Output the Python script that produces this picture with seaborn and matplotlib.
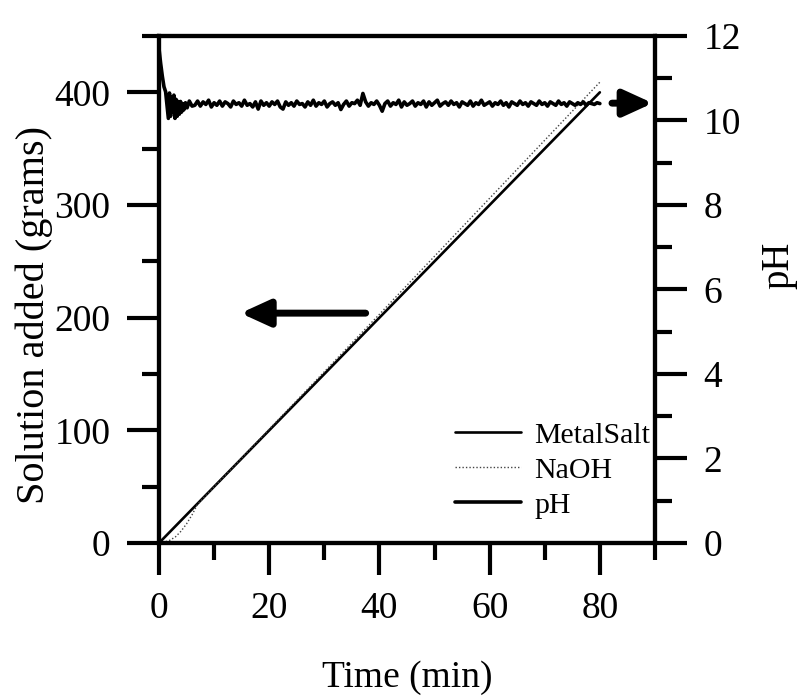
import numpy as np
import pandas as pd
import matplotlib
matplotlib.use("Agg")
import matplotlib.pyplot as plt
import seaborn as sns

# ---------------- data ----------------
salt_time = [0, 20, 40, 60, 80]
salt_mass = [0, 100, 200, 300, 400]

naoh_time = [0, 1, 2, 3, 4, 5, 6, 7, 20, 40, 60, 80]
naoh_mass = [0, 0.8, 2.5, 5.5, 10.5, 17, 25, 34.5, 101, 203, 306, 409]

ph_time_early = [0, 0.3, 0.6, 0.9, 1.2, 1.5, 1.7, 1.9, 2.1, 2.3, 2.5, 2.7, 2.9,
                 3.1, 3.3, 3.5, 3.7, 3.9, 4.1, 4.3, 4.5, 4.8, 5.1, 5.5, 6.0]
ph_early = [11.7, 11.35, 11.05, 10.8, 10.68, 10.3, 10.05, 10.65, 10.1, 10.55,
            10.2, 10.6, 10.05, 10.5, 10.1, 10.45, 10.15, 10.45, 10.2, 10.4,
            10.25, 10.42, 10.3, 10.46, 10.34]
ph_time_late = list(np.arange(6.5, 80.01, 0.5))
ph_late = [
    10.36, 10.46, 10.34, 10.44, 10.38, 10.48, 10.32, 10.42, 10.36, 10.46,
    10.34, 10.44, 10.40, 10.32, 10.46, 10.38, 10.42, 10.34, 10.48, 10.36,
    10.40, 10.32, 10.44, 10.27, 10.46, 10.36, 10.42, 10.34, 10.44, 10.38,
    10.46, 10.32, 10.27, 10.44, 10.36, 10.42, 10.34, 10.46, 10.38, 10.40,
    10.32, 10.44, 10.36, 10.48, 10.34, 10.42, 10.38, 10.46, 10.32, 10.40,
    10.44, 10.36, 10.42, 10.26, 10.38, 10.46, 10.34, 10.42, 10.40, 10.48,
    10.36, 10.64, 10.44, 10.34, 10.42, 10.38, 10.46, 10.36, 10.22, 10.40,
    10.46, 10.34, 10.42, 10.38, 10.48, 10.32, 10.44, 10.36, 10.40, 10.46,
    10.34, 10.42, 10.38, 10.46, 10.32, 10.44, 10.36, 10.42, 10.48, 10.34,
    10.40, 10.44, 10.36, 10.46, 10.38, 10.42, 10.32, 10.44, 10.40, 10.36,
    10.46, 10.34, 10.42, 10.38, 10.48, 10.36, 10.40, 10.44, 10.34, 10.42,
    10.38, 10.46, 10.36, 10.42, 10.32, 10.44, 10.40, 10.36, 10.46, 10.38,
    10.42, 10.34, 10.44, 10.40, 10.36, 10.46, 10.38, 10.42, 10.34, 10.44,
    10.40, 10.36, 10.46, 10.38, 10.42, 10.34, 10.44, 10.40, 10.36, 10.42,
    10.38, 10.44, 10.36, 10.42, 10.40, 10.38, 10.42, 10.40,
]
ph_time = ph_time_early + ph_time_late
ph_values = ph_early + ph_late

x_major = [0, 20, 40, 60, 80]
x_minor = [10, 30, 50, 70, 90]
y1_major = [0, 100, 200, 300, 400]
y1_minor = [50, 150, 250, 350, 450]
y2_major = [0, 2, 4, 6, 8, 10, 12]
y2_minor = [1, 3, 5, 7, 9, 11]

# ---------------- style ----------------
sns.set_theme(style="ticks")
plt.rcParams["font.family"] = ["Liberation Serif", "DejaVu Serif"]
plt.rcParams["text.color"] = "black"
plt.rcParams["axes.labelcolor"] = "black"
plt.rcParams["xtick.color"] = "black"
plt.rcParams["ytick.color"] = "black"
plt.rcParams["axes.linewidth"] = 3

fig = plt.figure(figsize=(7.97, 7.0), dpi=100)
ax1 = fig.add_axes([0.1995, 0.2243, 0.6223, 0.7243])
ax2 = ax1.twinx()

salt_df = pd.DataFrame({"t": salt_time, "m": salt_mass})
naoh_df = pd.DataFrame({"t": naoh_time, "m": naoh_mass})
ph_df = pd.DataFrame({"t": ph_time, "ph": ph_values})

sns.lineplot(data=salt_df, x="t", y="m", ax=ax1, color="black", lw=1.9,
             label="MetalSalt", sort=False)
sns.lineplot(data=naoh_df, x="t", y="m", ax=ax1, color="#444444", lw=1.0,
             linestyle=(0, (1, 1.5)), label="NaOH", sort=False)
sns.lineplot(data=ph_df, x="t", y="ph", ax=ax2, color="black", lw=2.6,
             label="pH", sort=False)

ax1.set_xlim(0, 90)
ax1.set_ylim(0, 450)
ax2.set_ylim(0, 12)

ax1.set_xticks(x_major)
ax1.set_xticks(x_minor, minor=True)
ax1.set_yticks(y1_major)
ax1.set_yticks(y1_minor, minor=True)
ax2.set_yticks(y2_major)
ax2.set_yticks(y2_minor, minor=True)

for ax in (ax1, ax2):
    for sp in ax.spines.values():
        sp.set_linewidth(3)
        sp.set_color("black")
    ax.tick_params(which="major", length=23, width=3, direction="out",
                   labelsize=27, color="black", labelcolor="black", pad=12)
    ax.tick_params(which="minor", length=12, width=3, direction="out",
                   color="black")
ax1.tick_params(axis="y", which="both", right=False)
ax1.tick_params(axis="x", which="both", top=False)
ax2.tick_params(axis="x", which="both", top=False, bottom=False)

ax1.set_xlabel("Time (min)", fontsize=27, labelpad=25, color="black")
ax1.set_ylabel("Solution added (grams)", fontsize=29, color="black")
ax2.set_ylabel("pH", fontsize=28, color="black")
ax1.yaxis.set_label_coords(-0.214, 0.45)
ax2.yaxis.set_label_coords(1.212, 0.548)

# arrows pointing to the axis each curve belongs to
ax1.annotate("", xy=(14.8, 204), xytext=(37.5, 204),
             arrowprops=dict(arrowstyle="-|>,head_length=0.7,head_width=0.32",
                             lw=5, color="black", mutation_scale=25,
                             capstyle="round", shrinkA=0, shrinkB=0))
ax2.annotate("", xy=(89.6, 10.41), xytext=(82.2, 10.41),
             arrowprops=dict(arrowstyle="-|>,head_length=0.7,head_width=0.32",
                             lw=5, color="black", mutation_scale=25,
                             capstyle="round", shrinkA=0, shrinkB=0),
             annotation_clip=False)

h1, l1 = ax1.get_legend_handles_labels()
h2, l2 = ax2.get_legend_handles_labels()
if ax1.get_legend() is not None:
    ax1.get_legend().remove()
if ax2.get_legend() is not None:
    ax2.get_legend().remove()
leg = ax2.legend(h1 + h2, l1 + l2, loc="lower right",
                 bbox_to_anchor=(0.99, 0.048), frameon=False, fontsize=21.5,
                 handlelength=2.2, handletextpad=0.45, labelspacing=0.27,
                 borderpad=0, borderaxespad=0)
for txt in leg.get_texts():
    txt.set_color("black")

fig.savefig("out.png", dpi=100)
